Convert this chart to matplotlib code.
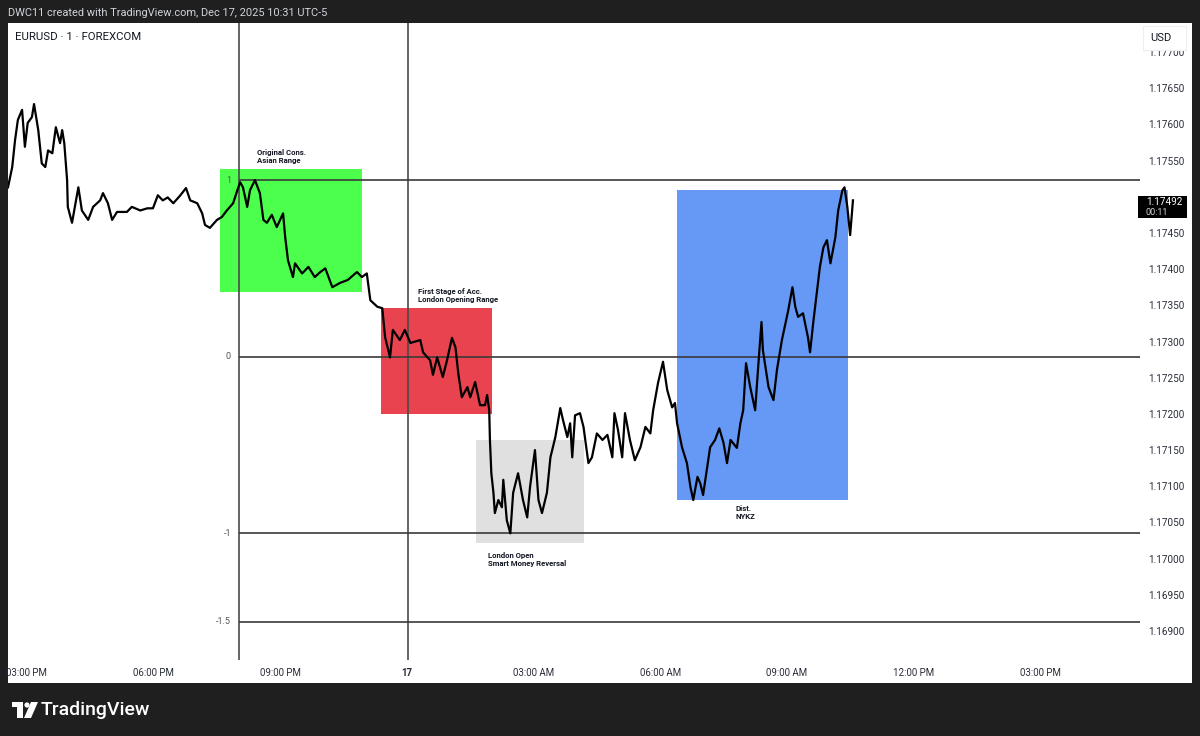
import numpy as np
import matplotlib
matplotlib.use("Agg")
import matplotlib.pyplot as plt
from matplotlib.patches import Rectangle, Polygon, Circle
from matplotlib.transforms import Affine2D

plt.rcParams['font.family'] = ['Roboto', 'DejaVu Sans']

# EURUSD 1-min, minutes after 03:00 PM (Dec 16) and price
minutes = [-27, -21, -17, -13, -7, -3, 1, 7, 10, 16, 21, 26, 30, 36, 41, 47, 50, 53, 57, 58,
           64, 68, 73, 78, 87, 94, 104, 108, 115, 121, 128, 142, 149, 161, 171, 179, 186, 193, 200, 208,
           218, 226, 232, 242, 249, 253, 260, 270, 277, 284, 293, 299, 303, 307, 313, 317, 324, 331, 336, 341,
           348, 355, 364, 367, 371, 378, 381, 391, 400, 409, 417, 424, 434, 445, 456, 469, 476, 483, 488, 498,
           505, 509, 516, 520, 530, 537, 545, 559, 563, 573, 577, 583, 591, 597, 604, 609, 613, 618, 626, 630,
           637, 644, 651, 654, 657, 658, 660, 663, 665, 670, 675, 677, 682, 687, 691, 698, 705, 711, 715, 722,
           727, 732, 739, 744, 751, 758, 762, 768, 772, 775, 779, 786, 791, 798, 803, 810, 818, 825, 832, 835,
           840, 846, 850, 857, 864, 872, 879, 886, 890, 897, 904, 910, 917, 921, 924, 931, 938, 943, 947, 953,
           957, 961, 967, 971, 978, 984, 990, 995, 1000, 1009, 1014, 1018, 1022, 1028, 1035, 1039, 1044, 1046, 1054, 1061,
           1066, 1073, 1078, 1082, 1088, 1092, 1096, 1103, 1110, 1113, 1118, 1123, 1127, 1132, 1137, 1142, 1149, 1153, 1159, 1162,
           1166, 1170, 1174]
prices = [1.17513, 1.17541, 1.17578, 1.17606, 1.17620, 1.17569, 1.17602, 1.17610, 1.17628, 1.17592,
          1.17546, 1.17541, 1.17564, 1.17560, 1.17596, 1.17574, 1.17592, 1.17574, 1.17523, 1.17486,
          1.17464, 1.17486, 1.17513, 1.17481, 1.17468, 1.17486, 1.17495, 1.17505, 1.17491, 1.17468,
          1.17479, 1.17479, 1.17486, 1.17481, 1.17484, 1.17484, 1.17502, 1.17495, 1.17499, 1.17491,
          1.17502, 1.17512, 1.17495, 1.17491, 1.17477, 1.17461, 1.17457, 1.17468, 1.17472, 1.17481,
          1.17491, 1.17509, 1.17520, 1.17513, 1.17486, 1.17509, 1.17523, 1.17505, 1.17468, 1.17464,
          1.17475, 1.17458, 1.17477, 1.17444, 1.17412, 1.17389, 1.17408, 1.17394, 1.17403, 1.17389,
          1.17396, 1.17401, 1.17375, 1.17381, 1.17385, 1.17396, 1.17389, 1.17394, 1.17357, 1.17348,
          1.17346, 1.17306, 1.17278, 1.17316, 1.17302, 1.17316, 1.17298, 1.17302, 1.17285, 1.17274,
          1.17254, 1.17278, 1.17251, 1.17274, 1.17305, 1.17292, 1.17256, 1.17223, 1.17237, 1.17223,
          1.17244, 1.17212, 1.17212, 1.17226, 1.17205, 1.17164, 1.17118, 1.17091, 1.17063, 1.17081,
          1.17071, 1.17109, 1.17053, 1.17035, 1.17091, 1.17118, 1.17081, 1.17057, 1.17099, 1.17150,
          1.17081, 1.17063, 1.17091, 1.17140, 1.17168, 1.17208, 1.17191, 1.17168, 1.17187, 1.17140,
          1.17198, 1.17201, 1.17182, 1.17132, 1.17140, 1.17173, 1.17164, 1.17171, 1.17140, 1.17201,
          1.17178, 1.17140, 1.17201, 1.17164, 1.17136, 1.17154, 1.17182, 1.17173, 1.17205, 1.17243,
          1.17272, 1.17233, 1.17209, 1.17215, 1.17187, 1.17154, 1.17132, 1.17099, 1.17081, 1.17113,
          1.17104, 1.17088, 1.17127, 1.17154, 1.17164, 1.17180, 1.17160, 1.17132, 1.17164, 1.17153,
          1.17187, 1.17205, 1.17270, 1.17237, 1.17205, 1.17261, 1.17327, 1.17288, 1.17237, 1.17219,
          1.17261, 1.17302, 1.17325, 1.17343, 1.17375, 1.17348, 1.17334, 1.17339, 1.17306, 1.17285,
          1.17330, 1.17371, 1.17403, 1.17430, 1.17440, 1.17408, 1.17444, 1.17481, 1.17509, 1.17513,
          1.17486, 1.17447, 1.17495]
last_price = "1.17492"
countdown = "00:11"

# fib tool anchored on the Asian high / London low
fib_high = 1.17523
fib_low = 1.17279
fib_levels = [1, 0, -1, -1.5]
fib_start = 302          # ~08:00 PM
vlines = [302, 542]      # ~08:00 PM, midnight

# boxes: (start min, end min, low, high, colour, label)
boxes = [
    (275, 476, 1.17368, 1.17538, "#4dff4d", "Original Cons.\nAsian Range"),
    (503, 661, 1.17200, 1.17346, "#e8434f", "First Stage of Acc.\nLondon Opening Range"),
    (638, 792, 1.17022, 1.17164, "#e0e0e0", "London Open\nSmart Money Reversal"),
    (924, 1167, 1.17081, 1.17509, "#6699f5", "Dist.\nNYKZ"),
]
label_pos = [(327, 1.17545, "bottom"), (556, 1.17353, "bottom"),
             (655, 1.17009, "top"), (1007, 1.17074, "top")]

time_ticks = [0, 180, 360, 540, 720, 900, 1080, 1260, 1440]
time_labels = ["03:00 PM", "06:00 PM", "09:00 PM", "17", "03:00 AM",
               "06:00 AM", "09:00 AM", "12:00 PM", "03:00 PM"]
price_ticks = np.arange(1.16900, 1.177001, 0.0005)

W, H = 1200, 736
fig = plt.figure(figsize=(W / 100, H / 100), dpi=100, facecolor="#1f1f1f")
px = Affine2D().scale(1 / W, -1 / H).translate(0, 1) + fig.transFigure

# white chart panel, behind the axes
fig.patches.append(Rectangle((8, 23), 1184, 660, transform=px, facecolor="white", edgecolor="none", zorder=-5))

ax = fig.add_axes([8 / W, (H - 660) / H, 1132 / W, 637 / H])
ax.set_facecolor("white")
for s in ax.spines.values():
    s.set_visible(False)
ax.set_xlim(-27, 1582)
ax.set_ylim(1.16860, 1.17740)

for (x0, x1, lo, hi, col, lab), (lx, ly, va) in zip(boxes, label_pos):
    ax.add_patch(Rectangle((x0, lo), x1 - x0, hi - lo, facecolor=col, edgecolor="none", zorder=1))
    ax.text(lx, ly, lab, fontsize=5.6, fontweight="bold", color="#131722", va=va, ha="left",
            linespacing=1.15, zorder=6)

for v in vlines:
    ax.axvline(v, color="#4a4a4a", lw=1.2, zorder=2)

for lvl in fib_levels:
    p = fib_low + lvl * (fib_high - fib_low)
    ax.hlines(p, fib_start, 1582, color="#3a3a3a", lw=1.2, zorder=2)
    ax.text(fib_start - 12, p, f"{lvl:g}", fontsize=6.5, color="#555555", ha="right", va="center", zorder=6)

ax.plot(minutes, prices, color="black", lw=1.6, zorder=5)

ax.yaxis.tick_right()
ax.set_yticks(price_ticks)
# 1.17500 sits under the last-price marker
ax.set_yticklabels(["" if abs(p - 1.175) < 1e-7 else f"{p:.5f}" for p in price_ticks])
ax.tick_params(axis="y", length=0, pad=6, labelsize=7.2, labelcolor="#2a2e39")
ax.set_xticks(time_ticks)
ax.set_xticklabels(time_labels)
ax.tick_params(axis="x", length=0, pad=6, labelsize=7, labelcolor="#2a2e39")
ax.get_xticklabels()[3].set_fontweight("bold")

# header and legend text
fig.text(8, 13, "DWC11 created with TradingView.com, Dec 17, 2025 10:31 UTC-5", transform=px,
         color="#d1d4dc", fontsize=7.9, va="center", ha="left")
fig.text(15, 37, "EURUSD \u00b7 1 \u00b7 FOREXCOM", transform=px, color="#131722",
         fontsize=8.2, va="center", ha="left")

# USD box over the top price label
fig.patches.append(Rectangle((1143, 26), 43, 24, transform=px, facecolor="white",
                             edgecolor="#eeeeee", lw=0.8, zorder=4))
fig.text(1161, 38, "USD", transform=px, color="#131722", fontsize=8, ha="center", va="center", zorder=5)

# last price marker
fig.patches.append(Rectangle((1138, 196), 49, 22, transform=px, facecolor="black", edgecolor="none", zorder=4))
fig.text(1146, 202, last_price, transform=px, color="white", fontsize=7.2, ha="left", va="center", zorder=5)
fig.text(1146, 212.5, countdown, transform=px, color="#d0d0d0", fontsize=6.5, ha="left", va="center", zorder=5)

# TradingView logo
fig.patches.append(Polygon([(12, 702), (23, 702), (23, 718), (17, 718), (17, 707), (12, 707)],
                           closed=True, transform=px, facecolor="white", edgecolor="none"))
fig.patches.append(Circle((27, 705), 2.6, transform=px, facecolor="white", edgecolor="none"))
fig.patches.append(Polygon([(31, 702), (38, 702), (31, 718), (24, 718)],
                           closed=True, transform=px, facecolor="white", edgecolor="none"))
fig.text(41, 710, "TradingView", transform=px, color="white", fontsize=14, fontweight="medium",
         ha="left", va="center")

fig.savefig("out.png", dpi=100, facecolor=fig.get_facecolor())
